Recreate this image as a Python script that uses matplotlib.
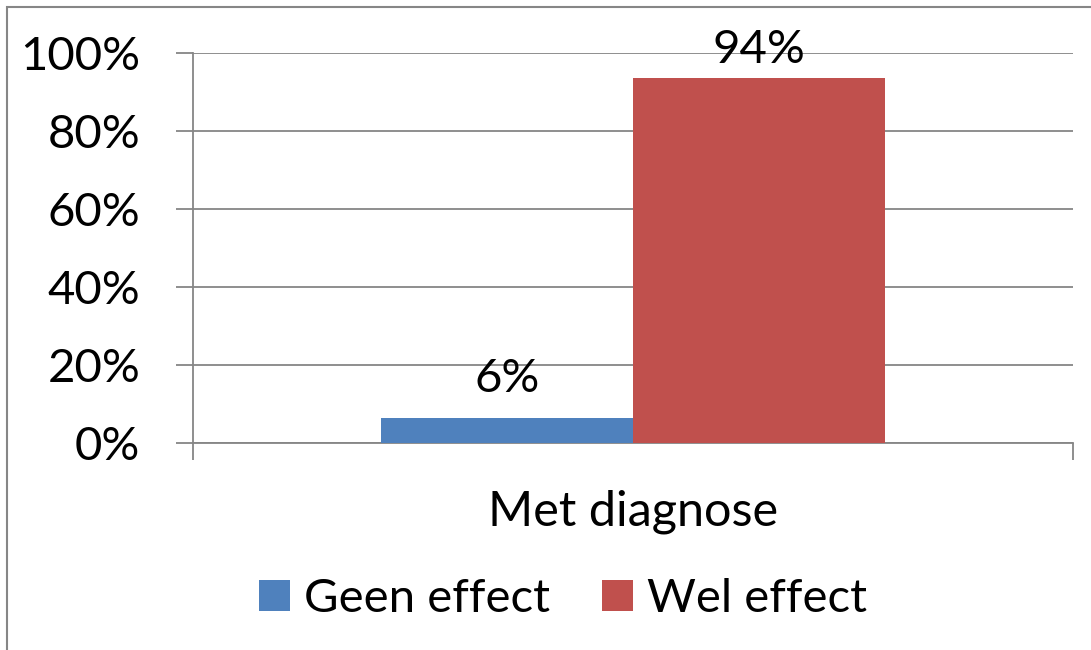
import matplotlib
matplotlib.use("Agg")
import matplotlib.pyplot as plt
from matplotlib.patches import Rectangle
from matplotlib.ticker import PercentFormatter

categories = ["Met diagnose"]
series_names = ["Geen effect", "Wel effect"]
values = [0.064, 0.936]
labels = ["6%", "94%"]
colors = ["#4F81BD", "#C0504D"]
yticks = [0, 0.2, 0.4, 0.6, 0.8, 1.0]

plt.rcParams['font.family'] = ['Lato', 'DejaVu Sans']
W, H = 1091, 650
fig = plt.figure(figsize=(W / 100, H / 100), dpi=100)
ax = fig.add_axes([193 / W, (H - 443) / H, (1073 - 193) / W, (443 - 53) / H])

grid_c = "#868686"
bw = 252 / 880
offsets = [-bw / 2, bw / 2]
ax.set_xlim(-0.5, 0.5)
ax.set_ylim(0, 1)
# label baseline: 26 px above bar top, but kept below the chart top (like Excel)
max_baseline_px_from_top = 63
for name, v, lab, c, off in zip(series_names, values, labels, colors, offsets):
    ax.bar([off], [v], width=bw, color=c, label=name, zorder=3)
    _, ytop = ax.transData.transform((off, v))
    base = ytop + 26
    base = min(base, H - max_baseline_px_from_top)
    dy_pt = (base - ytop) * 72 / 100
    ax.annotate(lab, (off, v), xytext=(0, dy_pt), textcoords="offset points",
                ha="center", va="baseline", fontsize=34)

ax.set_yticks(yticks)
ax.yaxis.set_major_formatter(PercentFormatter(1.0, decimals=0))
ax.set_xticks([-0.5, 0.5])
ax.set_xticklabels(["", ""])
ax.grid(axis="y", color=grid_c, linewidth=1.3, zorder=0)
for s in ["top", "right"]:
    ax.spines[s].set_visible(False)
for s in ["left", "bottom"]:
    ax.spines[s].set_color(grid_c)
    ax.spines[s].set_linewidth(1.3)
ax.tick_params(axis="y", length=12, width=1.3, color=grid_c, pad=26, labelsize=34)
ax.tick_params(axis="x", length=12, width=1.3, color=grid_c)
ax.set_xlabel(categories[0], fontsize=35, labelpad=18)

leg = fig.legend(loc="center", bbox_to_anchor=(563 / W, (H - 599) / H), ncol=2,
                 frameon=False, fontsize=34, handlelength=0.65, handleheight=0.65,
                 handletextpad=0.3, columnspacing=1.1)

# outer border (left & top visible)
fig.add_artist(Rectangle((7 / W, -0.1), 1.2, (H - 7) / H + 0.1, transform=fig.transFigure,
                         fill=False, edgecolor=grid_c, linewidth=1.5))

fig.savefig("out.png", dpi=100)
